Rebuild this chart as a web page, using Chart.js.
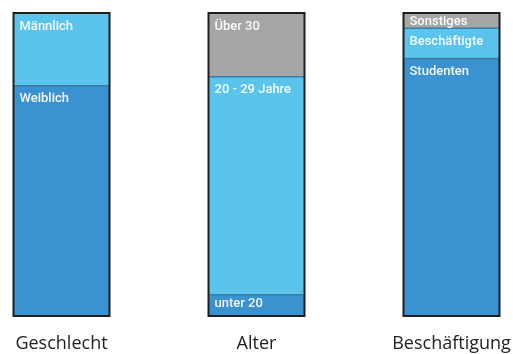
<!DOCTYPE html>
<html>
<head>
<meta charset="utf-8">
<script src="https://cdn.jsdelivr.net/npm/chart.js@4/dist/chart.umd.min.js"></script>
<style>
  html, body { margin: 0; padding: 0; background: #fff; }
  #wrap { width: 513px; height: 354px; }
</style>
</head>
<body>
<div id="wrap"><canvas id="myChart" width="513" height="354"></canvas></div>
<script>
// categories along the bottom
const categories = ['Geschlecht', 'Alter', 'Beschäftigung'];

// stack levels, from bottom to top (percent)
const level1 = [76, 7, 85];
const level2 = [24, 72, 10];
const level3 = [null, 21, 5];

// labels written inside each segment
const level1Labels = ['Weiblich', 'unter 20', 'Studenten'];
const level2Labels = ['Männlich', '20 - 29 Jahre', 'Beschäftigte'];
const level3Labels = ['', 'Über 30', 'Sonstiges'];

const segLabels = [level1Labels, level2Labels, level3Labels];

// draws segment separators, outer frame and the text inside the segments
const segmentPlugin = {
  id: 'segments',
  afterDatasetsDraw(chart) {
    const ctx = chart.ctx;
    ctx.save();
    // separator lines on top edge of lower segments
    ctx.strokeStyle = '#3f7ca3';
    ctx.lineWidth = 1.5;
    chart.data.datasets.forEach((ds, di) => {
      const meta = chart.getDatasetMeta(di);
      meta.data.forEach((bar, i) => {
        if (ds.data[i] == null || di == 0) return;
        ctx.beginPath();
        ctx.moveTo(bar.x - bar.width / 2, bar.base);
        ctx.lineTo(bar.x + bar.width / 2, bar.base);
        ctx.stroke();
      });
    });
    // text
    ctx.font = '500 13px Roboto';
    ctx.fillStyle = 'rgba(255,255,255,0.93)';
    ctx.textBaseline = 'top';
    ctx.textAlign = 'left';
    chart.data.datasets.forEach((ds, di) => {
      const meta = chart.getDatasetMeta(di);
      meta.data.forEach((bar, i) => {
        const t = segLabels[di][i];
        if (!t) return;
        let off = 7;
        if (bar.base - bar.y < 22) off = 2;
        ctx.fillText(t, bar.x - bar.width / 2 + 6, bar.y + off);
      });
    });
    // outer frame
    const y = chart.scales.y;
    const first = chart.getDatasetMeta(0).data;
    ctx.strokeStyle = '#1e1e1e';
    ctx.lineWidth = 2;
    first.forEach((bar) => {
      const top = y.getPixelForValue(100);
      const bottom = y.getPixelForValue(0);
      ctx.strokeRect(bar.x - bar.width / 2, top, bar.width, bottom - top);
    });
    ctx.restore();
  }
};

window.onload = function() {
  var ctx = document.getElementById('myChart').getContext('2d');
  new Chart(ctx, {
    type: 'bar',
    data: {
      labels: categories,
      datasets: [
        { data: level1, backgroundColor: '#3a92d0', clip: false },
        { data: level2, backgroundColor: '#5bc4ec', clip: false },
        { data: level3, backgroundColor: '#a6a6a6', clip: false },
      ],
    },
    options: {
      responsive: false,
      animation: false,
      layout: { padding: { top: 13, left: 61.5, right: 61.5, bottom: 0 } },
      datasets: { bar: { barThickness: 96, borderWidth: 0 } },
      plugins: {
        legend: { display: false },
        tooltip: { enabled: false },
      },
      scales: {
        x: {
          stacked: true,
          offset: false,
          grid: { display: false },
          border: { display: false },
          ticks: {
            padding: 9,
            color: '#222',
            font: { family: 'Open Sans', size: 18 },
            maxRotation: 0,
            autoSkip: false
          },
          afterFit: (scale) => {
            scale.height = 38;
            scale.paddingLeft = 0;
            scale.paddingRight = 0;
          },
        },
        y: {
          stacked: true,
          display: false,
          min: 0,
          max: 100,
        },
      },
    },
    plugins: [segmentPlugin],
  });
};
</script>
</body>
</html>
